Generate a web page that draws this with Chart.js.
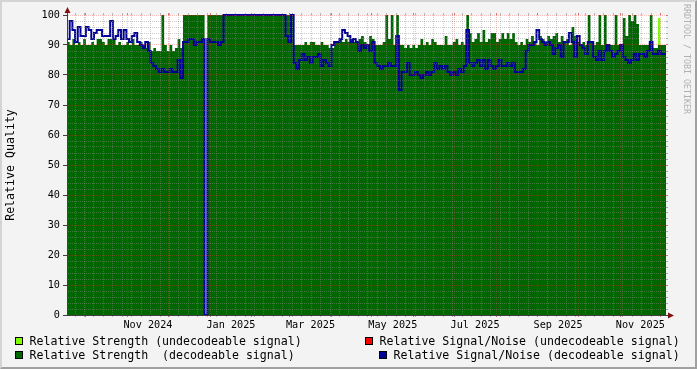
<!DOCTYPE html>
<html>
<head>
<meta charset="utf-8">
<script src="https://cdn.jsdelivr.net/npm/chart.js@4.4.1/dist/chart.umd.min.js"></script>
<style>
  html, body { margin: 0; padding: 0; background: #f3f3f3; }
  #wrap { position: relative; width: 697px; height: 369px; background: #f3f3f3; overflow: hidden;
          font-family: 'DejaVu Sans Mono', monospace; }
  #wrap canvas { position: absolute; left: 0; top: 0; }
  .shade { position: absolute; left: 0; top: 0; width: 697px; height: 369px; box-sizing: border-box;
           border-top: 2px solid #d4d4d4; border-left: 2px solid #d4d4d4;
           border-right: 2px solid #a0a0a0; border-bottom: 2px solid #a0a0a0; pointer-events: none; }
  .lg { position: absolute; font-size: 11.6px; line-height: 14px; white-space: pre; color: #000; }
  .sw { position: absolute; width: 8px; height: 8px; box-sizing: border-box; border: 1px solid #000; }
  #mark { position: absolute; left: 682px; top: 4px; font-size: 8.3px; line-height: 10px;
          writing-mode: vertical-rl; color: #b0b0b0; white-space: pre; }
</style>
</head>
<body>
<div id="wrap">
  <canvas id="chart" width="697" height="369"></canvas>
  <div class="shade"></div>
  <div id="mark">RRDTOOL / TOBI OETIKER</div>

  <div class="sw" style="left:15px;top:337px;background:#80ff00"></div>
  <div class="lg" style="left:29.5px;top:334px">Relative Strength (undecodeable signal)</div>
  <div class="sw" style="left:15px;top:351px;background:#006600"></div>
  <div class="lg" style="left:29.5px;top:348px">Relative Strength  (decodeable signal)</div>

  <div class="sw" style="left:365px;top:337px;background:#ff0000"></div>
  <div class="lg" style="left:379.5px;top:334px">Relative Signal/Noise (undecodeable signal)</div>
  <div class="sw" style="left:379px;top:351px;background:#000099"></div>
  <div class="lg" style="left:393.5px;top:348px">Relative Signal/Noise (decodeable signal)</div>
</div>
<script>
// days counted from 2024-09-17, one sample every 2 days
const START = Date.UTC(2024, 8, 17);
const DAY = 864e5;
const STEP_DAYS = 2;
const X_MAX = 444;

const strengthDecodeable = [
  91,90,92,90,91,90,92,90,90,91, 90,92,92,91,90,92,92,92,90,91,
  90,90,91,90,92,90,90,91,90,89, 91,88,89,88,88,100,90,88,90,88,
  89,92,89,100,100,100,100,100,100,100, 100,0,100,100,100,100,100,100,100,100,
  100,100,100,100,100,100,100,100,100,100, 100,100,100,100,100,100,100,100,100,100,
  100,100,100,100,90,90,90,90,91,90, 91,91,90,90,91,90,90,89,89,91,
  91,92,91,92,91,92,91,91,92,93, 91,90,93,92,90,90,90,91,100,92,
  100,90,100,90,90,89,90,89,90,89, 90,92,90,91,90,92,91,90,90,90,
  93,90,90,91,92,90,91,90,100,94, 91,92,94,91,95,91,92,94,94,91,
  92,94,92,94,92,94,91,90,91,90, 92,91,93,91,90,93,92,91,93,92,
  93,94,91,93,91,92,90,96,93,91, 90,91,90,100,91,90,91,100,90,100,
  90,90,90,100,90,90,99,93,100,98, 100,97,90,90,90,90,100,89,89,90,
  90,90,90
];

const snrDecodeable = [
  92,98,95,91,96,93,93,96,95,92, 94,95,95,93,93,93,98,92,93,95,
  92,95,92,91,93,94,91,90,89,91, 88,84,83,82,81,82,81,81,82,81,
  81,85,79,91,91,92,92,90,91,91, 92,0,92,91,91,91,90,91,100,100,
  100,100,100,100,100,100,100,100,100,100, 100,100,100,100,100,100,100,100,100,100,
  100,93,91,100,84,82,85,87,85,86, 84,86,86,87,83,85,84,83,90,91,
  91,92,95,94,93,91,92,91,88,90, 89,90,88,91,84,83,82,83,83,84,
  83,83,93,75,81,81,84,80,80,81, 80,79,80,81,80,81,84,82,83,82,
  83,81,80,81,80,82,81,83,95,84, 83,84,85,83,85,82,85,83,82,83,
  85,83,83,84,83,84,81,81,81,82, 88,90,90,91,95,92,91,90,91,90,
  87,89,90,86,91,91,94,91,86,93, 90,89,87,91,91,86,85,88,85,88,
  90,88,86,87,88,90,86,85,84,85, 87,85,87,87,86,88,91,87,87,88,
  87,87,87
];

// undecodeable strength only shows up once, near the end
const strengthUndecodeableDays = [436, 438, 440];
const strengthUndecodeable = [0, 99, 0];
const snrUndecodeable = [];

const xTickLabels = ['Nov 2024', 'Jan 2025', 'Mar 2025', 'May 2025', 'Jul 2025', 'Sep 2025', 'Nov 2025'];
const MONTHS = ['Jan','Feb','Mar','Apr','May','Jun','Jul','Aug','Sep','Oct','Nov','Dec'];

const GRID = 'rgba(140,140,140,0.45)';
const MGRID = 'rgba(255,40,40,0.3)';
const FONT = "'DejaVu Sans Mono', monospace";

const dayOf = (y, m, d) => (Date.UTC(y, m, d) - START) / DAY;
const series = arr => arr.map((v, i) => ({ x: i * STEP_DAYS, y: v }));

function timeTicks() {
  const t = new Map();
  const wd = new Date(START).getUTCDay();
  for (let d = (8 - wd) % 7; d <= X_MAX; d += 7) t.set(d, { value: d, kind: 'minor' });
  for (let y = 2024, m = 9; dayOf(y, m, 1) <= X_MAX; m++) {
    const d = dayOf(y, m, 1);
    t.set(d, { value: d, kind: 'major' });
  }
  xTickLabels.forEach(s => {
    const [mon, yr] = s.split(' ');
    const m = MONTHS.indexOf(mon), y = +yr;
    const d = (dayOf(y, m, 1) + dayOf(y, m + 1, 1)) / 2;
    t.set(d, { value: d, kind: 'label', text: s });
  });
  return [...t.values()].sort((a, b) => a.value - b.value);
}

const xColor = c => !c.tick ? 'transparent' : c.tick.kind === 'major' ? MGRID : c.tick.kind === 'minor' ? GRID : 'transparent';
const xTickColor = c => !c.tick ? 'transparent' : c.tick.kind === 'major' ? 'rgba(200,60,60,0.7)' : c.tick.kind === 'minor' ? 'rgba(120,120,120,0.5)' : 'transparent';
const yColor = c => c.tick && c.tick.value % 10 === 0 ? MGRID : GRID;

const plotBg = {
  id: 'plotBg',
  beforeDraw(chart) {
    const { ctx, chartArea: a } = chart;
    ctx.save();
    ctx.fillStyle = '#ffffff';
    ctx.fillRect(a.left, a.top, a.right - a.left, a.bottom - a.top);
    ctx.restore();
  }
};

const arrows = {
  id: 'arrows',
  afterDraw(chart) {
    const { ctx, chartArea: a } = chart;
    const x0 = Math.round(a.left) + 0.5, y0 = Math.round(a.bottom) + 0.5;
    ctx.save();
    ctx.strokeStyle = '#404040';
    ctx.lineWidth = 1;
    ctx.beginPath();
    ctx.moveTo(x0, a.top); ctx.lineTo(x0, a.top - 4);
    ctx.moveTo(a.right, y0); ctx.lineTo(a.right + 3, y0);
    ctx.stroke();
    ctx.fillStyle = '#7f1010';
    ctx.beginPath();
    ctx.moveTo(x0, a.top - 8); ctx.lineTo(x0 - 3, a.top - 2); ctx.lineTo(x0 + 3, a.top - 2); ctx.closePath();
    ctx.moveTo(a.right + 8, y0); ctx.lineTo(a.right + 2, y0 - 3); ctx.lineTo(a.right + 2, y0 + 3); ctx.closePath();
    ctx.fill();
    ctx.restore();
  }
};

new Chart(document.getElementById('chart'), {
  type: 'line',
  data: {
    datasets: [
      {
        label: 'Relative Strength  (decodeable signal)',
        data: series(strengthDecodeable),
        stepped: true, fill: 'origin',
        backgroundColor: '#006600', borderWidth: 0,
        pointRadius: 0, order: 3
      },
      {
        label: 'Relative Strength (undecodeable signal)',
        data: strengthUndecodeableDays.map((d, i) => ({ x: d, y: strengthUndecodeable[i] })),
        stepped: true, fill: 'origin',
        backgroundColor: '#80ff00', borderWidth: 0,
        pointRadius: 0, order: 4
      },
      {
        label: 'Relative Signal/Noise (undecodeable signal)',
        data: snrUndecodeable,
        borderColor: '#ff0000', borderWidth: 1.5,
        pointRadius: 0, order: 2
      },
      {
        label: 'Relative Signal/Noise (decodeable signal)',
        data: series(snrDecodeable),
        stepped: true, fill: false,
        borderColor: '#000099', borderWidth: 2,
        pointRadius: 0, order: 1,
        clip: { left: 0, top: 2, right: 0, bottom: 0 }
      }
    ]
  },
  options: {
    responsive: false,
    animation: false,
    devicePixelRatio: 1,
    events: [],
    layout: { padding: { left: 0, top: 13, right: 28, bottom: 0 } },
    plugins: { legend: { display: false }, tooltip: { enabled: false } },
    scales: {
      x: {
        type: 'linear', min: 0, max: X_MAX,
        afterBuildTicks: s => { s.ticks = timeTicks(); },
        afterFit: s => { s.height = 54; },
        grid: { color: xColor, tickColor: xTickColor, tickLength: 2, z: 1 },
        border: { display: true, color: '#404040', width: 1, dash: [1, 1], z: 2 },
        ticks: {
          autoSkip: false, maxRotation: 0, minRotation: 0, padding: 2,
          color: '#000', font: { family: FONT, size: 10.2 },
          callback: (v, i, ticks) => ticks[i].text || ''
        }
      },
      x2: {
        type: 'linear', position: 'top', min: 0, max: X_MAX,
        afterBuildTicks: s => { s.ticks = timeTicks(); },
        afterFit: s => { s.height = 2; },
        grid: { drawOnChartArea: false, tickColor: xTickColor, tickLength: 2 },
        border: { display: false },
        ticks: { display: false, autoSkip: false, maxRotation: 0 }
      },
      y: {
        min: 0, max: 100,
        afterFit: s => { s.width = 67; },
        grid: {
          color: yColor, tickLength: 4, z: 1,
          tickColor: c => c.tick && c.tick.value % 10 === 0 ? '#404040' : 'transparent'
        },
        border: { display: true, color: '#404040', width: 1, dash: [1, 1], z: 2 },
        ticks: {
          stepSize: 2, autoSkip: false, padding: 3,
          color: '#000', font: { family: FONT, size: 10.2 },
          callback: v => (v % 10 === 0 ? v : '')
        },
        title: {
          display: true, text: 'Relative Quality', color: '#000',
          font: { family: FONT, size: 11.6 }, padding: { top: 4, bottom: 0 }
        }
      },
      y2: {
        position: 'right', min: 0, max: 100,
        afterFit: s => { s.width = 3; },
        grid: {
          drawOnChartArea: false, tickLength: 2,
          tickColor: c => c.tick && c.tick.value % 10 === 0 ? 'rgba(200,60,60,0.7)' : 'rgba(120,120,120,0.6)'
        },
        border: { display: false },
        ticks: { display: false, stepSize: 2, autoSkip: false }
      }
    }
  },
  plugins: [plotBg, arrows]
});
</script>
</body>
</html>
